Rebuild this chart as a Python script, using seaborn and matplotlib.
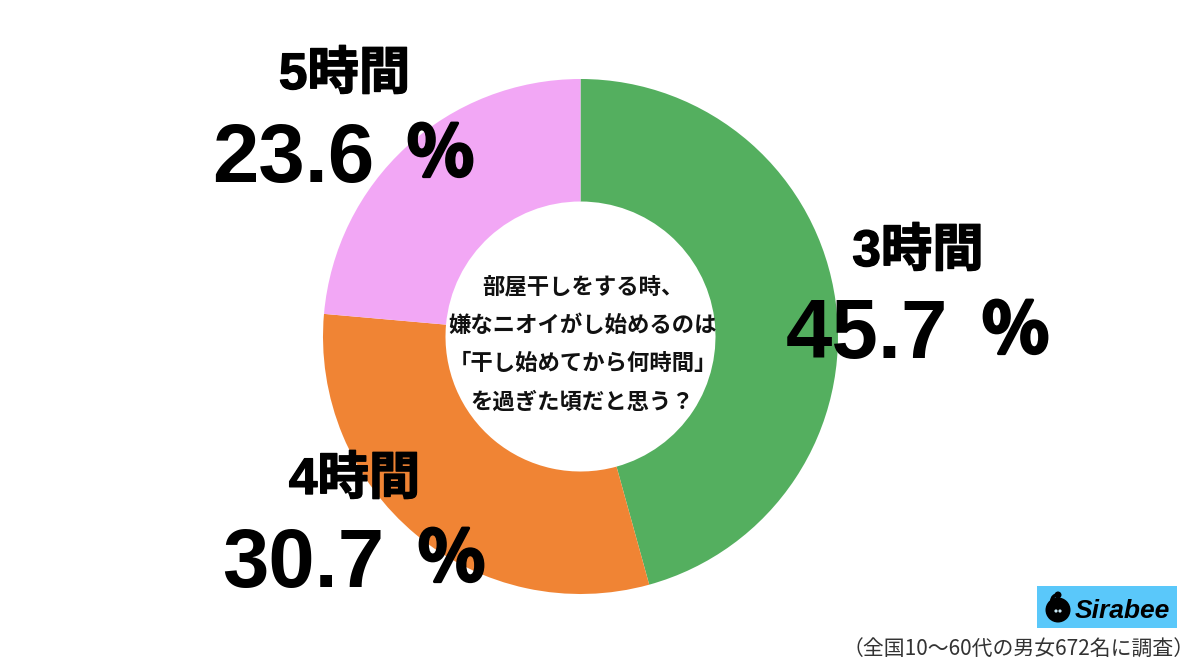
import matplotlib
matplotlib.use('Agg')
import seaborn as sns
import matplotlib.pyplot as plt
import matplotlib.patheffects as pe
from matplotlib.patches import Rectangle, Circle, Wedge

# 3時間, 4時間, 5時間 clockwise from the top
categories = ['3時間', '4時間', '5時間']
values = [45.7, 30.7, 23.6]
pct_labels = ['45.7', '30.7', '23.6']
colors = ['#54AF5F', '#F08434', '#F2A7F5']
question = ['部屋干しをする時、', '嫌なニオイがし始めるのは', '「干し始めてから何時間」', 'を過ぎた頃だと思う？']
note = '（全国10〜60代の男女672名に調査）'

sns.set_theme(style='white')
plt.rcParams['font.family'] = ['Noto Sans CJK JP', 'DejaVu Sans']
mixed = ['Liberation Sans', 'Noto Sans CJK JP']

W, H = 1200, 664
cx, cy, r = 580.5, 336.5, 257.5
fig = plt.figure(figsize=(W / 100, H / 100), dpi=100, facecolor='white')

# pie axes placed exactly in pixels
ax = fig.add_axes([(cx - r) / W, 1 - (cy + r) / H, 2 * r / W, 2 * r / H])
ax.pie(values, colors=colors, startangle=90, counterclock=False, radius=1,
       wedgeprops=dict(width=1 - 135 / r, linewidth=0))
ax.set_xlim(-1, 1)
ax.set_ylim(-1, 1)
ax.axis('off')

# overlay in pixel coordinates
ov = fig.add_axes([0, 0, 1, 1], facecolor='none')
ov.set_xlim(0, W)
ov.set_ylim(H, 0)
ov.axis('off')

label_pos = [(918, 266), (354.5, 494), (344.5, 89)]
num_pos = [(866.5, 358), (303, 587), (293.5, 182)]
sign_pos = [(1015.5, 333), (451.5, 561), (440.5, 156)]
heavy = [pe.withStroke(linewidth=1.0, foreground='black')]
heavier = [pe.withStroke(linewidth=2.2, foreground='black')]
for cat, pct, lp, np_, sp in zip(categories, pct_labels, label_pos, num_pos, sign_pos):
    ov.text(lp[0], lp[1], cat, fontsize=37, fontweight='bold', family=mixed, color='black',
            ha='center', va='baseline', path_effects=heavy)
    ov.text(np_[0], np_[1], pct, fontsize=60, fontweight='bold', family=['Liberation Sans'],
            color='black', ha='center', va='baseline')
    ov.text(sp[0], sp[1], '％', fontsize=50, fontweight='bold', color='black', ha='center', va='center',
            path_effects=heavier)

for i, line in enumerate(question):
    ov.text(582.5, 287 + i * 38.3, line, fontsize=16.1, fontweight='bold', color='#111111', ha='center', va='center')

ov.text(1018.5, 649, note, fontsize=15, color='#333333', ha='center', va='center')

# logo
ov.add_patch(Rectangle((1037, 586), 140, 42, facecolor='#5AC8FA', edgecolor='none'))
ov.add_patch(Circle((1058, 610), 12.5, facecolor='black', edgecolor='none'))
ov.add_patch(Circle((1056, 611), 1.6, facecolor='#C8E8F5', edgecolor='none'))
ov.add_patch(Circle((1060, 611), 1.6, facecolor='#C8E8F5', edgecolor='none'))
ov.add_patch(Wedge((1058, 601), 8, 90, 270, width=3.5, facecolor='black', edgecolor='none'))
ov.add_patch(Circle((1058, 595), 3.5, facecolor='black', edgecolor='none'))
ov.text(1075, 618, 'Sirabee', fontsize=19, fontweight='bold', fontstyle='italic',
        family=['Liberation Sans'], color='black', ha='left', va='baseline')

fig.savefig('out.png', dpi=100)
